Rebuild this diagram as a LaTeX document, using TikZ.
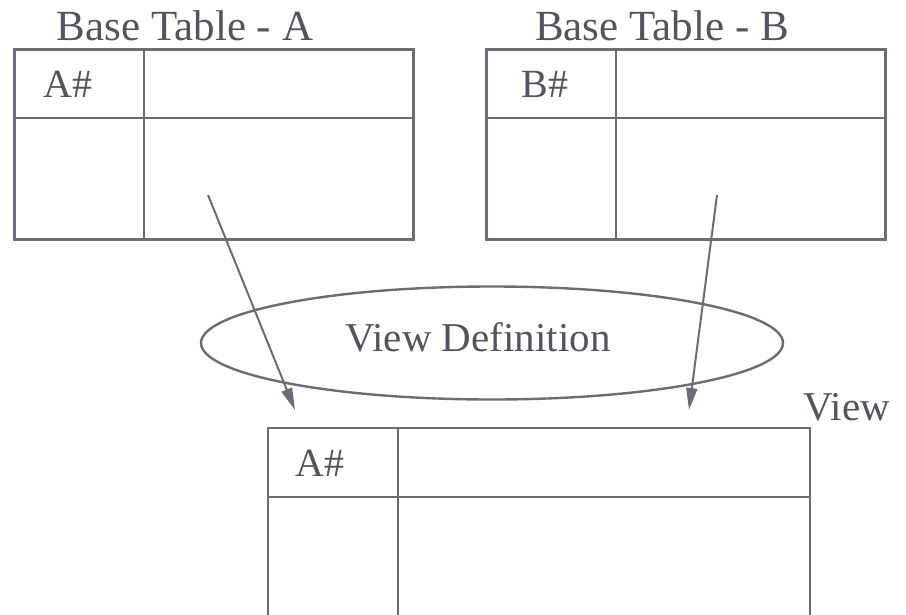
\documentclass[tikz,border=0pt]{standalone}
\usepackage{fontspec}
\setmainfont{Liberation Serif}
\usetikzlibrary{arrows.meta,shapes.geometric}
\definecolor{linegray}{RGB}{108,108,116}
\definecolor{textgray}{RGB}{84,84,94}
\begin{document}
\begin{tikzpicture}[x=1pt,y=-1pt,
  tline/.style={draw=linegray,line width=2.6pt},
  lbl/.style={text=textgray,font=\fontsize{41}{41}\selectfont,anchor=base,inner sep=0pt},
  ttl/.style={text=textgray,font=\fontsize{43}{43}\selectfont,anchor=base,inner sep=0pt},
  cell/.style={text=textgray,font=\fontsize{40}{40}\selectfont,anchor=base,inner sep=0pt},
  conn/.style={draw=linegray,line width=2pt,-{Triangle[length=22pt,width=11pt]}}]
\useasboundingbox (0,0) rectangle (906,614);
\fill[white] (0,0) rectangle (906,614);
% Table A
\node[tline,rectangle,inner sep=0pt,minimum width=399pt,minimum height=190pt,anchor=north west] (ta) at (13,48) {};
\draw[tline] (144,48) -- (144,238);
\draw[tline] (13,118) -- (412,118);
\node[ttl] (tatitle) at (185,40) {Base Table - A};
\node[cell] (ca) at (68,97) {A\#};
% Table B
\node[tline,rectangle,inner sep=0pt,minimum width=399pt,minimum height=190pt,anchor=north west] (tb) at (485,48) {};
\draw[tline] (616,48) -- (616,238);
\draw[tline] (485,118) -- (884,118);
\node[ttl] (tbtitle) at (662,40) {Base Table - B};
\node[cell] (cb) at (545,97) {B\#};
% Ellipse
\node[ellipse,draw=linegray,line width=2.4pt,minimum width=582pt,minimum height=113pt,inner sep=0pt] (vd) at (492,343) {};
\node[lbl] (vdtext) at (478,351) {View Definition};
% View table
\draw[tline] (268,620) -- (268,428) -- (810,428) -- (810,620);
\draw[tline] (398,428) -- (398,620);
\draw[tline] (268,497) -- (810,497);
\node[lbl] (viewlbl) at (847,420) {View};
\node[cell] (cv) at (320,476) {A\#};
% Arrows
\coordinate (a1s) at (208,195);
\coordinate (a1e) at (295,410);
\coordinate (a2s) at (717,195);
\coordinate (a2e) at (689,410);
\draw[conn] (a1s) -- (a1e);
\draw[conn] (a2s) -- (a2e);
\end{tikzpicture}
\end{document}
